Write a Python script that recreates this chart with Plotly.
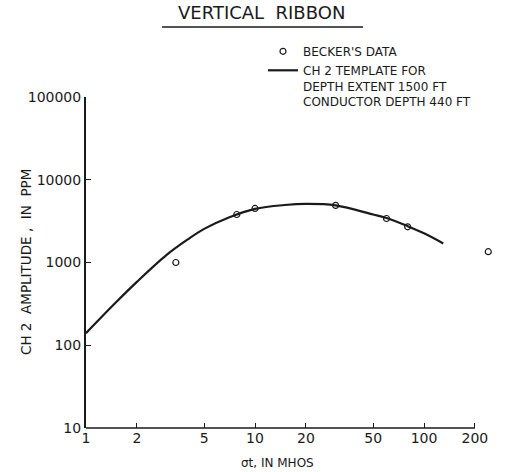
import plotly.graph_objects as go

# ---- data ----
becker_x = [3.4, 7.8, 10, 30, 60, 80, 240]
becker_y = [1000, 3800, 4500, 4900, 3400, 2700, 1350]

template_x = [1, 1.5, 2, 3, 4, 5, 7, 10, 15, 20, 30, 50, 60, 80, 100, 130]
template_y = [140, 328, 583, 1236, 1900, 2550, 3500, 4450, 4950, 5100, 4900, 3800, 3450, 2750, 2250, 1700]

x_ticks = [1, 2, 5, 10, 20, 50, 100, 200]
x_ticktext = ["1", "2", "5", "10", "20", "50", "100", "200"]
y_ticks = [10, 100, 1000, 10000, 100000]
y_ticktext = ["10", "100", "1000", "10000", "100000"]

W, H = 510, 472
L, R, T, B = 86, 495, 97, 428
FONT = "DejaVu Sans"
INK = "#1a1a1a"


def px(x):
    return (x - L) / (R - L)


def py(y):
    return (B - y) / (B - T)


fig = go.Figure()
fig.add_trace(go.Scatter(
    x=becker_x, y=becker_y, mode="markers", name="BECKER'S DATA",
    marker=dict(symbol="circle-open", size=6, color=INK, line=dict(width=1.2, color=INK)),
))
fig.add_trace(go.Scatter(
    x=template_x, y=template_y, mode="lines", line_shape="spline",
    name="CH 2 TEMPLATE FOR<br>DEPTH EXTENT 1500 FT<br>CONDUCTOR DEPTH 440 FT",
    line=dict(color=INK, width=2.2),
))

fig.update_layout(
    width=W, height=H,
    margin=dict(l=L, r=W - R, t=T, b=H - B),
    paper_bgcolor="white", plot_bgcolor="white",
    font=dict(family=FONT, color=INK, size=12),
    showlegend=True,
    legend=dict(
        x=px(263), y=py(37), xanchor="left", yanchor="top",
        font=dict(family=FONT, size=12, color=INK),
        bgcolor="rgba(0,0,0,0)", valign="top", tracegroupgap=0,
        itemwidth=30,
    ),
    xaxis=dict(
        type="log", range=[0, 2.42], showgrid=False, zeroline=False,
        showline=False, ticks="inside", ticklen=5, tickwidth=1, tickcolor=INK,
        tickmode="array", tickvals=x_ticks, ticktext=x_ticktext,
        tickfont=dict(family=FONT, size=14, color=INK),
    ),
    yaxis=dict(
        type="log", range=[1, 5], showgrid=False, zeroline=False,
        showline=True, linecolor=INK, linewidth=2,
        ticks="inside", ticklen=5, tickwidth=1, tickcolor=INK,
        tickmode="array", tickvals=y_ticks, ticktext=y_ticktext,
        tickfont=dict(family=FONT, size=14, color=INK),
    ),
)

# x axis line, drawn only from 1 to 200 as in the original
fig.add_shape(type="line", xref="x", yref="paper", x0=1, x1=200, y0=0, y1=0,
              line=dict(color=INK, width=1.5))

# title with underline
fig.add_annotation(text="VERTICAL  RIBBON", xref="paper", yref="paper",
                   x=px(261), y=py(13), xanchor="center", yanchor="middle",
                   showarrow=False, font=dict(family=FONT, size=18, color=INK))
fig.add_shape(type="line", xref="paper", yref="paper",
              x0=px(162), x1=px(363), y0=py(27), y1=py(27),
              line=dict(color=INK, width=1.3))

# axis titles
fig.add_annotation(text="CH 2  AMPLITUDE ,  IN  PPM", xref="paper", yref="paper",
                   x=px(26), y=py(262), xanchor="center", yanchor="middle",
                   textangle=-90, showarrow=False,
                   font=dict(family=FONT, size=13.5, color=INK))
fig.add_annotation(text="σt, IN MHOS", xref="paper", yref="paper",
                   x=px(277), y=py(463), xanchor="center", yanchor="middle",
                   showarrow=False, font=dict(family=FONT, size=12, color=INK))

fig.write_html("out.html")
